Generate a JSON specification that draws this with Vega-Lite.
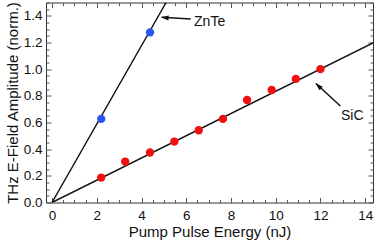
{
  "$schema": "https://vega.github.io/schema/vega-lite/v6.json",
  "width": 327,
  "height": 200,
  "autosize": {"type": "none"},
  "padding": {"left": 46, "top": 2.5, "right": 1, "bottom": 38.5},
  "background": "white",
  "config": {
    "font": "Liberation Sans",
    "view": {"stroke": "#333", "strokeWidth": 1},
    "axis": {"grid": false, "labelFont": "Liberation Sans", "titleFont": "Liberation Sans", "labelFontSize": 13.5, "titleFontSize": 15, "titleFontWeight": "normal", "labelColor": "#111", "titleColor": "#111", "tickColor": "#555", "tickWidth": 1, "domain": false}
  },
  "datasets": {
    "sic": [
      {"x": 2.2, "y": 0.187}, {"x": 3.27, "y": 0.307}, {"x": 4.38, "y": 0.375}, {"x": 5.47, "y": 0.457},
      {"x": 6.56, "y": 0.542}, {"x": 7.64, "y": 0.627}, {"x": 8.72, "y": 0.769}, {"x": 9.82, "y": 0.844},
      {"x": 10.9, "y": 0.927}, {"x": 12.0, "y": 1.0}
    ],
    "znte": [{"x": 2.2, "y": 0.627}, {"x": 4.38, "y": 1.276}],
    "fits": [
      {"fit": "ZnTe", "x": 0, "y": 0}, {"fit": "ZnTe", "x": 5.1, "y": 1.5},
      {"fit": "SiC", "x": 0, "y": 0}, {"fit": "SiC", "x": 14.35, "y": 1.196}
    ],
    "arrows": [
      {"a": "ZnTe", "x": 4.9, "y": 1.39}, {"a": "ZnTe", "x": 6.2, "y": 1.376},
      {"a": "SiC", "x": 11.8, "y": 0.892}, {"a": "SiC", "x": 12.89, "y": 0.724}
    ],
    "heads": [
      {"a": "ZnTe", "x": 4.87, "y": 1.39, "ang": 276},
      {"a": "SiC", "x": 11.78, "y": 0.894, "ang": 313}
    ],
    "labels": [
      {"t": "ZnTe", "x": 6.35, "y": 1.354},
      {"t": "SiC", "x": 12.92, "y": 0.65}
    ],
    "ticks": [{"x": 0, "y": 0}]
  },
  "layer": [
    {
      "data": {"name": "ticks"},
      "mark": {"type": "point", "opacity": 0},
      "encoding": {
        "x": {"field": "x", "type": "quantitative", "scale": {"domain": [-0.27, 14.35], "nice": false, "zero": false},
          "axis": {"orient": "bottom", "title": "Pump Pulse Energy (nJ)", "values": [0,0.5,1,1.5,2,2.5,3,3.5,4,4.5,5,5.5,6,6.5,7,7.5,8,8.5,9,9.5,10,10.5,11,11.5,12,12.5,13,13.5,14],
            "labelExpr": "round(datum.value*2) % 4 == 0 ? format(datum.value, 'd') : ''",
            "tickSize": {"condition": {"test": "round(datum.value*2) % 4 == 0", "value": -5}, "value": -3},
            "labelPadding": 11, "titlePadding": 2}},
        "y": {"field": "y", "type": "quantitative", "scale": {"domain": [0, 1.5], "nice": false},
          "axis": {"orient": "left", "title": "THz E-Field Amplitude (norm.)", "values": [0,0.05,0.1,0.15,0.2,0.25,0.3,0.35,0.4,0.45,0.5,0.55,0.6,0.65,0.7,0.75,0.8,0.85,0.9,0.95,1,1.05,1.1,1.15,1.2,1.25,1.3,1.35,1.4,1.45,1.5],
            "labelExpr": "round(datum.value*100) % 20 == 0 && datum.value < 1.45 ? format(datum.value, '.1f') : ''",
            "tickSize": {"condition": {"test": "round(datum.value*100) % 20 == 0", "value": -5}, "value": -3},
            "labelPadding": 9, "titlePadding": 3}}
      }
    },
    {
      "data": {"name": "ticks"},
      "mark": {"type": "point", "opacity": 0},
      "encoding": {
        "x": {"field": "x", "type": "quantitative",
          "axis": {"orient": "top", "title": null, "labels": false, "values": [0,0.5,1,1.5,2,2.5,3,3.5,4,4.5,5,5.5,6,6.5,7,7.5,8,8.5,9,9.5,10,10.5,11,11.5,12,12.5,13,13.5,14],
            "tickSize": {"condition": {"test": "round(datum.value*2) % 4 == 0", "value": -5}, "value": -3}}},
        "y": {"field": "y", "type": "quantitative",
          "axis": {"orient": "right", "title": null, "labels": false, "values": [0,0.05,0.1,0.15,0.2,0.25,0.3,0.35,0.4,0.45,0.5,0.55,0.6,0.65,0.7,0.75,0.8,0.85,0.9,0.95,1,1.05,1.1,1.15,1.2,1.25,1.3,1.35,1.4,1.45,1.5],
            "tickSize": {"condition": {"test": "round(datum.value*100) % 20 == 0", "value": -5}, "value": -3}}}
      }
    },
    {
      "data": {"name": "fits"},
      "mark": {"type": "line", "color": "#111", "strokeWidth": 1.5, "clip": true},
      "encoding": {
        "x": {"field": "x", "type": "quantitative", "axis": null},
        "y": {"field": "y", "type": "quantitative", "axis": null},
        "detail": {"field": "fit"}
      }
    },
    {
      "data": {"name": "sic"},
      "mark": {"type": "circle", "color": "#f01010", "opacity": 1, "size": 70},
      "encoding": {
        "x": {"field": "x", "type": "quantitative", "axis": null},
        "y": {"field": "y", "type": "quantitative", "axis": null}
      }
    },
    {
      "data": {"name": "znte"},
      "mark": {"type": "circle", "color": "#2a55f0", "opacity": 1, "size": 70},
      "encoding": {
        "x": {"field": "x", "type": "quantitative", "axis": null},
        "y": {"field": "y", "type": "quantitative", "axis": null}
      }
    },
    {
      "data": {"name": "arrows"},
      "mark": {"type": "line", "color": "#111", "strokeWidth": 1.5},
      "encoding": {
        "x": {"field": "x", "type": "quantitative", "axis": null},
        "y": {"field": "y", "type": "quantitative", "axis": null},
        "detail": {"field": "a"}
      }
    },
    {
      "data": {"name": "heads"},
      "mark": {"type": "point", "shape": "M0,0L0.7,2.2L-0.7,2.2Z", "filled": true, "color": "#111", "opacity": 1, "size": 49},
      "encoding": {
        "x": {"field": "x", "type": "quantitative", "axis": null},
        "y": {"field": "y", "type": "quantitative", "axis": null},
        "angle": {"field": "ang", "type": "quantitative", "scale": null}
      }
    },
    {
      "data": {"name": "labels"},
      "mark": {"type": "text", "align": "left", "baseline": "middle", "fontSize": 14, "color": "#111", "font": "Liberation Sans"},
      "encoding": {
        "x": {"field": "x", "type": "quantitative", "axis": null},
        "y": {"field": "y", "type": "quantitative", "axis": null},
        "text": {"field": "t"}
      }
    }
  ],
  "resolve": {"axis": {"x": "independent", "y": "independent"}}
}
